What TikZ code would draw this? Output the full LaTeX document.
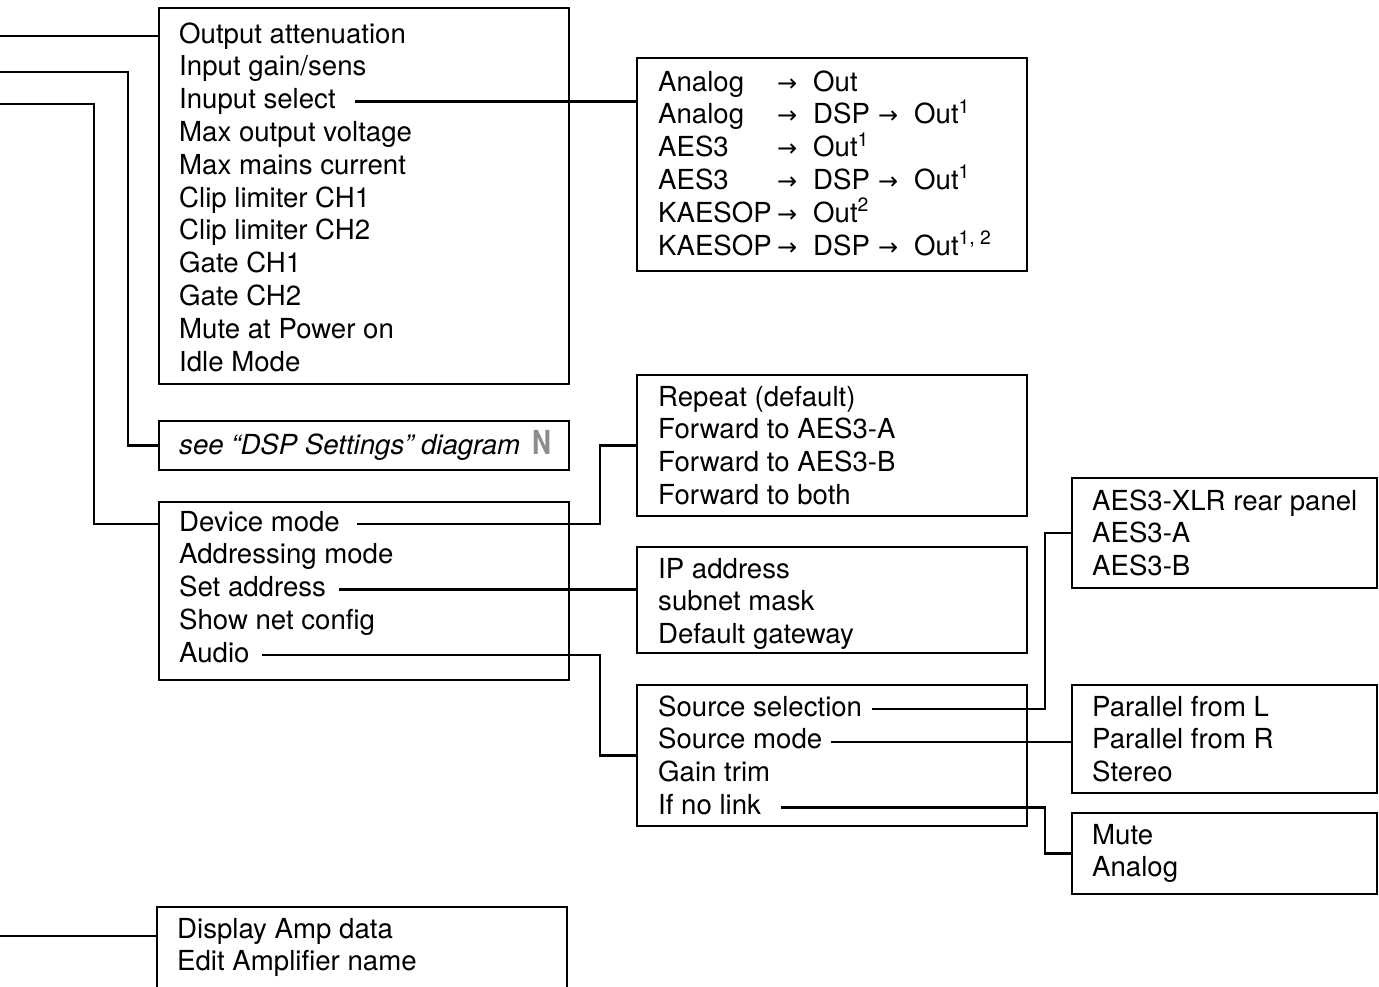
\documentclass[tikz,border=0pt]{standalone}
\usepackage{fontspec}
\setmainfont{TeX Gyre Heros}
\newfontfamily\arrowfont{DejaVu Sans}
\usetikzlibrary{fit}
\newcommand{\arr}{\makebox[18pt][l]{\fontsize{12}{12}\selectfont\arrowfont →}}
\newcommand{\srccol}[1]{\makebox[59.5pt][l]{#1}}
\newcommand{\dspcol}[1]{\makebox[32.5pt][l]{#1}}

\begin{document}
\begin{tikzpicture}[x=0.5pt, y=-0.5pt, line width=1.2pt,
    font=\fontsize{13.8}{16.4}\selectfont,
    box/.style={draw, inner sep=0pt},
    row/.style={anchor=west, inner sep=0pt, text height=10pt, text depth=3pt},
    tap/.style={shorten <=#1}, tap/.default=6pt]
  \clip (0,0) rectangle (1379,986);

  \node[box, fit={(159,8) (569,384)}] (mainbox) {};
  \node[row] (outatt) at (178,36) {Output attenuation};
  \node[row] (ingain) at (178,68.8) {Input gain/sens};
  \node[row] (insel) at (178,101.6) {Inuput select};
  \node[row] (maxvolt) at (178,134.4) {Max output voltage};
  \node[row] (maxcur) at (178,167.2) {Max mains current};
  \node[row] (clipa) at (178,200) {Clip limiter CH1};
  \node[row] (clipb) at (178,232.8) {Clip limiter CH2};
  \node[row] (gatea) at (178,265.6) {Gate CH1};
  \node[row] (gateb) at (178,298.4) {Gate CH2};
  \node[row] (mute) at (178,331.2) {Mute at Power on};
  \node[row] (idle) at (178,364) {Idle Mode};

  \node[box, fit={(637,58) (1027,271)}] (inbox) {};
  \node[row] (ina) at (657,84) {\srccol{Analog}\arr Out};
  \node[row] (inb) at (657,116.8) {\srccol{Analog}\arr\dspcol{DSP}\arr Out\textsuperscript{1}};
  \node[row] (inc) at (657,149.6) {\srccol{AES3}\arr Out\textsuperscript{1}};
  \node[row] (ind) at (657,182.4) {\srccol{AES3}\arr\dspcol{DSP}\arr Out\textsuperscript{1}};
  \node[row] (ine) at (657,215.2) {\srccol{KAESOP}\arr Out\textsuperscript{2}};
  \node[row] (inf) at (657,248) {\srccol{KAESOP}\arr\dspcol{DSP}\arr Out\textsuperscript{1, 2}};

  \node[box, fit={(159,421) (569,470)}] (dspbox) {};
  \node[row] (dspref) at (178,447) {\itshape see “DSP Settings” diagram\hspace{6pt}%
    \textcolor[gray]{0.55}{\upshape\bfseries\scalebox{0.95}[1.2]{N}}};

  \node[box, fit={(637,375) (1027,516)}] (modebox) {};
  \node[row] (repeat) at (657,399) {Repeat (default)};
  \node[row] (fwda) at (657,431.8) {Forward to AES3-A};
  \node[row] (fwdb) at (657,464.6) {Forward to AES3-B};
  \node[row] (fwdab) at (657,497.4) {Forward to both};

  \node[box, fit={(159,502) (569,680)}] (netbox) {};
  \node[row] (devmode) at (178,524) {Device mode};
  \node[row] (addrmode) at (178,556.8) {Addressing mode};
  \node[row] (setaddr) at (178,589.6) {Set address};
  \node[row] (netcfg) at (178,622.4) {Show net config};
  \node[row] (audio) at (178,655.2) {Audio};

  \node[box, fit={(637,547) (1027,653)}] (ipbox) {};
  \node[row] (ipaddr) at (657,571) {IP address};
  \node[row] (subnet) at (657,603.8) {subnet mask};
  \node[row] (gateway) at (657,636.6) {Default gateway};

  \node[box, fit={(637,685) (1027,826)}] (audiobox) {};
  \node[row] (srcsel) at (657,709) {Source selection};
  \node[row] (srcmode) at (657,741.8) {Source mode};
  \node[row] (gaintrim) at (657,774.6) {Gain trim};
  \node[row] (nolink) at (657,807.4) {If no link};

  \node[box, fit={(1072,478) (1377,588)}] (selbox) {};
  \node[row] (xlr) at (1091,503) {AES3-XLR rear panel};
  \node[row] (aesa) at (1091,535.8) {AES3-A};
  \node[row] (aesb) at (1091,568.6) {AES3-B};

  \node[box, fit={(1072,685) (1377,793)}] (srcbox) {};
  \node[row] (parl) at (1091,709) {Parallel from L};
  \node[row] (parr) at (1091,741.8) {Parallel from R};
  \node[row] (stereo) at (1091,774.6) {Stereo};

  \node[box, fit={(1072,813) (1377,894)}] (linkbox) {};
  \node[row] (lmute) at (1091,837) {Mute};
  \node[row] (lanalog) at (1091,869.8) {Analog};

  \node[box, fit={(157,907) (567,1010)}] (ampbox) {};
  \node[row] (ampdata) at (176,931) {Display Amp data};
  \node[row] (ampname) at (176,963.8) {Edit Amplifier name};

  \coordinate (inout) at (0,36);
  \coordinate (indsp) at (0,72);
  \coordinate (innet) at (0,104);
  \coordinate (inamp) at (0,936);

  \draw (inout) -- (mainbox.west |- outatt);
  \draw (indsp) -| ([xshift=-15pt]dspbox.west) -- (dspbox.west);
  \draw (innet) -| ([xshift=-32pt]netbox.west |- devmode) -- (netbox.west |- devmode);
  \draw (inamp) -- (ampbox.west |- inamp);
  \draw[tap=9pt] (insel.east) -- (inbox.west |- insel);
  \draw[tap=8pt] (devmode.east) -| ([xshift=-18pt]modebox.west) -- (modebox.west);
  \draw[tap] (setaddr.east) -- (ipbox.west |- setaddr);
  \draw[tap=5.5pt] (audio.east) -| ([xshift=-18pt]audiobox.west) -- (audiobox.west);
  \draw[tap=4.5pt] (srcsel.east) -| ([xshift=-13pt]selbox.west) -- (selbox.west);
  \draw[tap=4pt] (srcmode.east) -- (srcbox.west |- srcmode);
  \draw[tap=9.5pt] (nolink.east) -| ([xshift=-13pt]linkbox.west) -- (linkbox.west);
\end{tikzpicture}
\end{document}
